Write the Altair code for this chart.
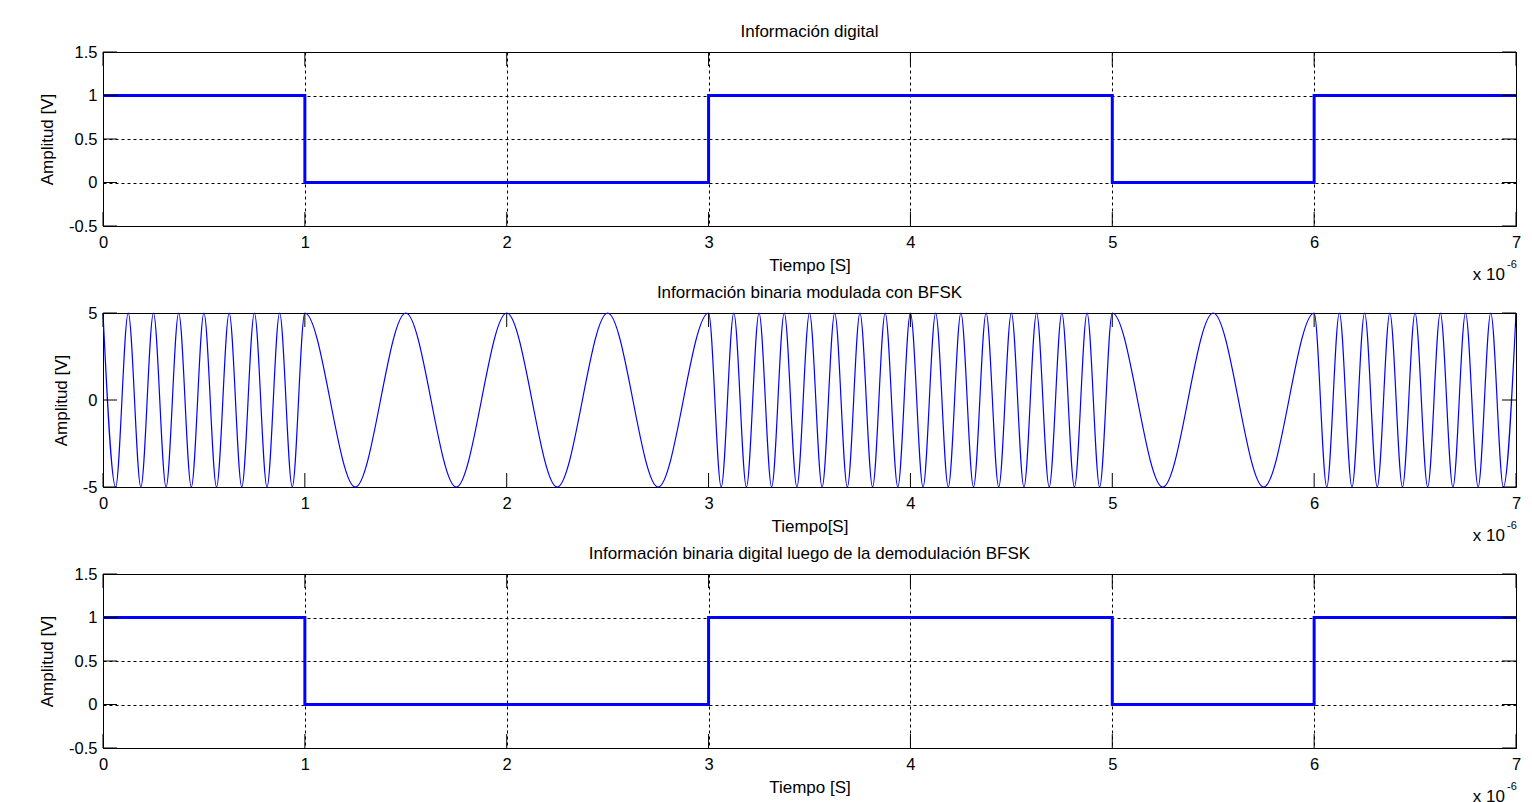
import altair as alt
import pandas as pd

# ---- data ----
bits = [1, 0, 0, 1, 1, 0, 1]                # transmitted / demodulated bits
bit_edges = [0, 1, 2, 3, 4, 5, 6, 7]        # bit boundaries, x 10^-6 s
cycles_per_us = {1: 8, 0: 2}                # BFSK carrier cycles per microsecond
amp = 5                                     # BFSK amplitude [V]

x_ticks = [0, 1, 2, 3, 4, 5, 6, 7]
y_ticks_digital = [-0.5, 0, 0.5, 1, 1.5]
y_ticks_bfsk = [-5, 0, 5]

titles = [
    "Información digital",
    "Información binaria modulada con BFSK",
    "Información binaria digital luego de la demodulación BFSK",
]
x_titles = ["Tiempo [S]", "Tiempo[S]", "Tiempo [S]"]
y_title = "Amplitud [V]"

# ---- tables ----
digital = pd.DataFrame({"t": bit_edges, "v": bits + [bits[-1]]})

ext_t, ext_v = [], []
for i, b in enumerate(bits):
    n = 2 * cycles_per_us[b]
    last = 1 if i == len(bits) - 1 else 0
    for k in range(n + last):
        ext_t.append(bit_edges[i] + k / n)
        ext_v.append(amp if k % 2 == 0 else -amp)
bfsk = pd.DataFrame({"t": ext_t, "v": ext_v})

W, H = 1413, 174
TL = 14
FONT = "Liberation Sans"
BLUE = "#0000ff"


def panel(main, y_domain, y_ticks, title, xtitle, grid):
    xenc = alt.X("t:Q", scale=alt.Scale(domain=[0, 7], nice=False, zero=False),
                 axis=alt.Axis(values=x_ticks, title=xtitle, grid=grid,
                               labelExpr="'' + datum.value"))
    yenc = alt.Y("v:Q", scale=alt.Scale(domain=y_domain, nice=False, zero=False),
                 axis=alt.Axis(values=y_ticks, title=y_title, grid=grid,
                               labelExpr="'' + datum.value"))
    xt = pd.DataFrame({"t": x_ticks})
    yt = pd.DataFrame({"v": y_ticks})
    tick_x_bot = alt.Chart(xt).mark_rule(color="black", strokeWidth=1).encode(
        x=xenc, y=alt.value(H), y2=alt.value(H - TL))
    tick_x_top = alt.Chart(xt).mark_rule(color="black", strokeWidth=1).encode(
        x=xenc, y=alt.value(0), y2=alt.value(TL))
    tick_y_l = alt.Chart(yt).mark_rule(color="black", strokeWidth=1).encode(
        y=yenc, x=alt.value(0), x2=alt.value(TL))
    tick_y_r = alt.Chart(yt).mark_rule(color="black", strokeWidth=1).encode(
        y=yenc, x=alt.value(W), x2=alt.value(W - TL))
    one = pd.DataFrame({"a": [0]})
    x10 = alt.Chart(one).mark_text(text="x 10", align="right", baseline="middle",
                                   font=FONT, fontSize=17, color="black").encode(
        x=alt.value(W - 11), y=alt.value(H + 49))
    exp = alt.Chart(one).mark_text(text="-6", align="left", baseline="middle",
                                   font=FONT, fontSize=11, color="black").encode(
        x=alt.value(W - 9), y=alt.value(H + 39))
    line = main.encode(x=xenc, y=yenc)
    return alt.layer(line, tick_x_bot, tick_x_top, tick_y_l, tick_y_r, x10, exp).properties(
        width=W, height=H,
        title=alt.TitleParams(title, font=FONT, fontSize=17, fontWeight="normal",
                              color="black", offset=-14, baseline="bottom"))


p1 = panel(alt.Chart(digital).mark_line(color=BLUE, strokeWidth=3, interpolate="step-after"),
           [-0.5, 1.5], y_ticks_digital, titles[0], x_titles[0], True)
p2 = panel(alt.Chart(bfsk).mark_line(color=BLUE, strokeWidth=1.2, interpolate="monotone"),
           [-5, 5], y_ticks_bfsk, titles[1], x_titles[1], False)
p3 = panel(alt.Chart(digital).mark_line(color=BLUE, strokeWidth=3, interpolate="step-after"),
           [-0.5, 1.5], y_ticks_digital, titles[2], x_titles[2], True)

chart = alt.vconcat(p1, p2, p3, spacing=87, bounds="flush").properties(
    padding={"left": 30, "top": 14, "right": 0, "bottom": 0}
).configure_view(stroke="black", strokeWidth=1).configure_axis(
    domain=False, ticks=False, tickSize=0,
    labelFont=FONT, labelFontSize=16.5, labelColor="black", labelFlush=False,
    titleFont=FONT, titleFontSize=17, titleFontWeight="normal", titleColor="black",
    gridColor="black", gridDash=[3, 3], gridOpacity=1, gridWidth=1,
).configure_axisX(labelPadding=8, titlePadding=7).configure_axisY(
    labelPadding=6, titlePadding=12)

chart.save("out.html", embed_options={"renderer": "svg", "actions": False})
